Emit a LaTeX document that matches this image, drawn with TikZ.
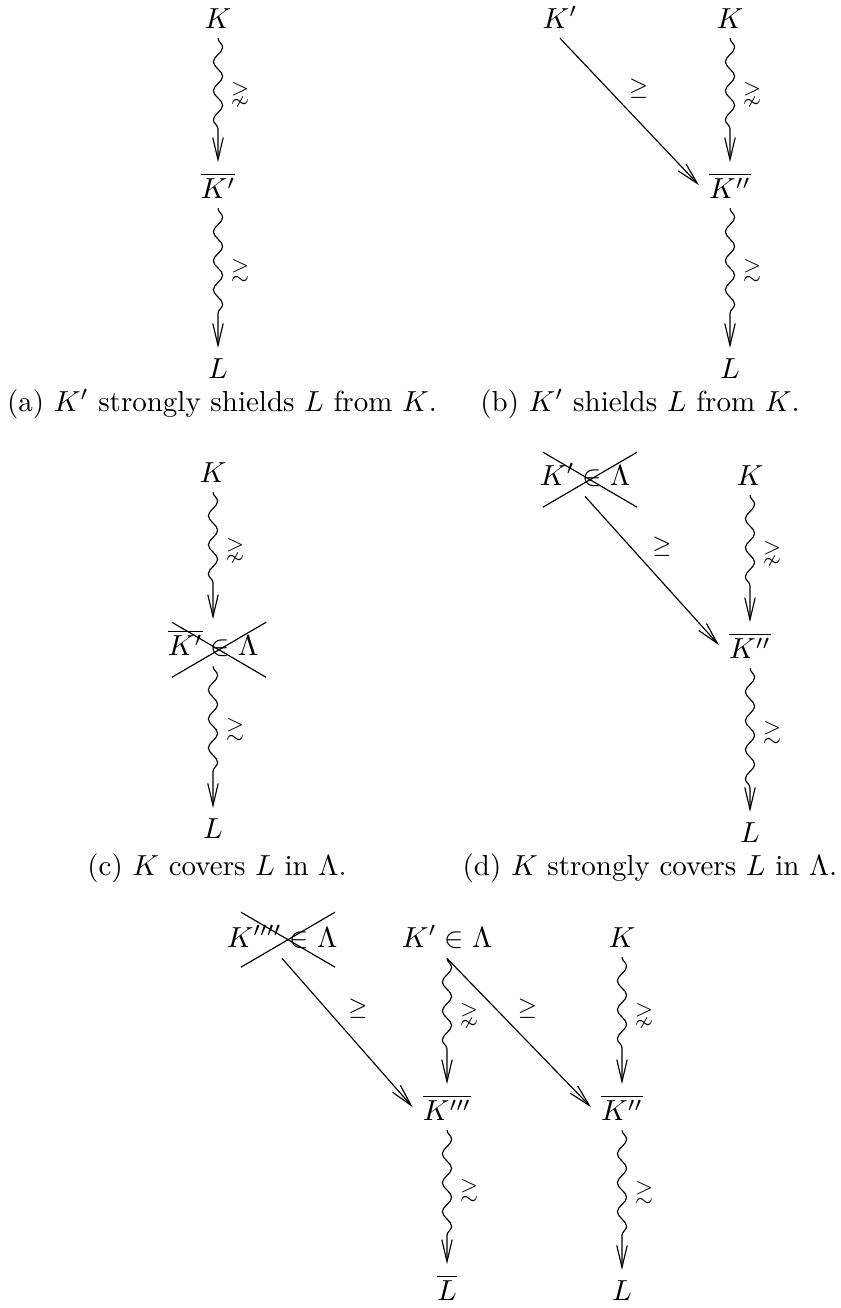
\documentclass[tikz,border=0pt]{standalone}
\usepackage{amsmath,amssymb}
\usepackage{tikz}
\usetikzlibrary{arrows.meta,decorations.pathmorphing,shapes.misc}

\tikzset{
  obj/.style={anchor=base},
  wavy/.style={-{Straight Barb[length=7.6pt,width=3.6pt]},decorate,
    decoration={snake,amplitude=1.6pt,segment length=10pt,post length=8pt}},
  diag/.style={-{Straight Barb[length=7.6pt,width=3.6pt]}},
  lbl/.style={font=\footnotesize,right=1pt},
  dlbl/.style={font=\footnotesize,right=4pt},
  crossmark/.style={cross out,draw,minimum width=32.1pt,minimum height=18.6pt,inner sep=0pt},
  subcap/.style={anchor=base}
}

\begin{document}
\begin{tikzpicture}[x=0.345pt,y=-0.345pt]
\useasboundingbox (0,0) rectangle (841,1308);
% (a)
\node[obj] (ka) at (218,28) {$K$};
\node[obj] (kpa) at (218,198) {$\overline{K'}$};
\node[obj] (la) at (218,378) {$L$};
\draw[wavy] (ka) -- (kpa) node[lbl,pos=.45] {$\gnsim$};
\draw[wavy] (kpa) -- (la) node[lbl,pos=.45] {$\gtrsim$};
\node[subcap] (capa) at (222,411) {(a) $K'$ strongly shields $L$ from $K$.};
% (b)
\node[obj] (kpb) at (560,28) {$K'$};
\node[obj] (kb) at (730,28) {$K$};
\node[obj] (kppb) at (730,198) {$\overline{K''}$};
\node[obj] (lb) at (730,378) {$L$};
\draw[diag] (kpb.south) -- (kppb.west) node[dlbl,pos=.34] {$\geq$};
\draw[wavy] (kb) -- (kppb) node[lbl,pos=.45] {$\gnsim$};
\draw[wavy] (kppb) -- (lb) node[lbl,pos=.45] {$\gtrsim$};
\node[subcap] (capb) at (640,411) {(b) $K'$ shields $L$ from $K$.};
% (c)
\node[obj] (kc) at (213,482) {$K$};
\node[obj] (kpc) at (213,655) {$\overline{K'}\in\Lambda$};
\node[crossmark] (xc) at ([shift={(6,7)}]kpc.center) {};
\node[obj] (lc) at (213,838) {$L$};
\draw[wavy] (kc) -- (kpc) node[lbl,pos=.45] {$\gnsim$};
\draw[wavy] (kpc) -- (lc) node[lbl,pos=.45] {$\gtrsim$};
\node[subcap] (capc) at (217,875) {(c) $K$ covers $L$ in $\Lambda$.};
% (d)
\node[obj] (kpd) at (585,485) {$K'\in\Lambda$};
\node[crossmark] (xd) at ([shift={(5,5)}]kpd.center) {};
\node[obj] (kd) at (750,485) {$K$};
\node[obj] (kppd) at (750,658) {$\overline{K''}$};
\node[obj] (ld) at (750,842) {$L$};
\draw[diag] (kpd.south) -- (kppd.west) node[dlbl,pos=.34] {$\geq$};
\draw[wavy] (kd) -- (kppd) node[lbl,pos=.45] {$\gnsim$};
\draw[wavy] (kppd) -- (ld) node[lbl,pos=.45] {$\gtrsim$};
\node[subcap] (capd) at (650,875) {(d) $K$ strongly covers $L$ in $\Lambda$.};
% (e)
\node[obj] (kqe) at (282,947) {$K''''\in\Lambda$};
\node[crossmark] (xe) at ([shift={(6,3)}]kqe.center) {};
\node[obj] (kpe) at (447,947) {$K'\in\Lambda$};
\node[obj] (ke) at (622,947) {$K$};
\node[obj] (kpppe) at (447,1120) {$\overline{K'''}$};
\node[obj] (kppe) at (622,1120) {$\overline{K''}$};
\node[obj] (lbe) at (447,1300) {$\overline{L}$};
\node[obj] (le) at (622,1300) {$L$};
\draw[diag] (kqe.south) -- (kpppe.west) node[dlbl,pos=.34] {$\geq$};
\draw[diag] (kpe.south) -- (kppe.west) node[dlbl,pos=.34] {$\geq$};
\draw[wavy] (kpe) -- (kpppe) node[lbl,pos=.45] {$\gnsim$};
\draw[wavy] (ke) -- (kppe) node[lbl,pos=.45] {$\gnsim$};
\draw[wavy] (kpppe) -- (lbe) node[lbl,pos=.45] {$\gtrsim$};
\draw[wavy] (kppe) -- (le) node[lbl,pos=.45] {$\gtrsim$};
\end{tikzpicture}
\end{document}
